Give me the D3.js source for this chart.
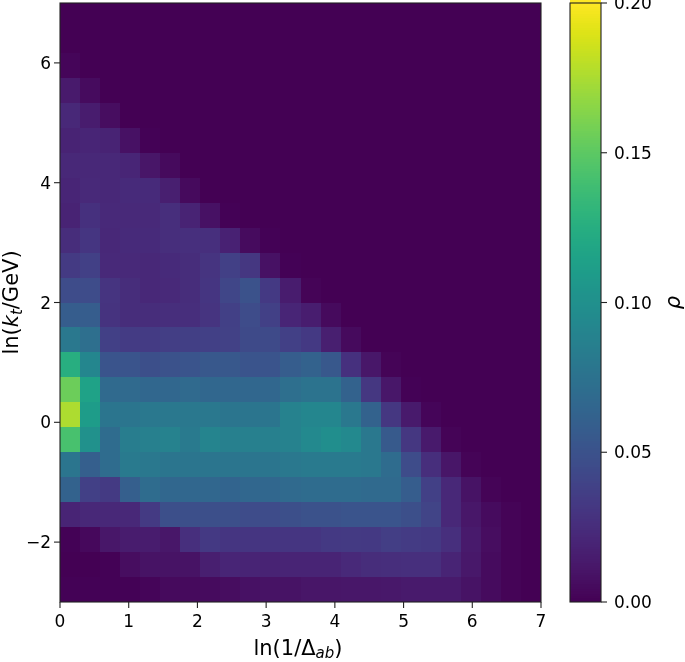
<!DOCTYPE html>
<html><head><meta charset="utf-8">
<script src="https://cdnjs.cloudflare.com/ajax/libs/d3/7.8.5/d3.min.js"></script>
<style>
html,body{margin:0;padding:0;background:#fff;overflow:hidden}
svg{display:block;filter:blur(0.6px)}
text{font-family:"DejaVu Sans",sans-serif;fill:#000}
</style></head><body>
<svg id="c" width="685" height="662"></svg>
<script>
const xTicks=[0,1,2,3,4,5,6,7];
const yTicks=[-2,0,2,4,6];
const cbTicks=[0,0.05,0.10,0.15,0.20];
const xDomain=[0,7], yDomain=[-3,7], rhoDomain=[0,0.2];
const xLabel="ln(1/Δ", xSub="ab", yLabelA="ln(", yLabelK="k", yLabelT="t", yLabelB="/GeV)", cbLabel="ρ";
// rows from the bottom (ln kt = -3) upward, columns from ln(1/Δ) = 0 rightward
const rho=[
[.001,.001,.001,.001,.003,.005,.005,.006,.007,.009,.010,.010,.011,.011,.012,.012,.013,.014,.014,.014,.010,.006,.002,0],
[.0005,.0002,.001,.007,.010,.010,.010,.017,.021,.020,.019,.020,.020,.020,.023,.025,.026,.027,.027,.020,.013,.006,.002,0],
[.001,.004,.012,.015,.015,.012,.027,.033,.031,.031,.031,.031,.031,.033,.034,.033,.036,.035,.033,.027,.014,.007,.002,0],
[.020,.022,.022,.022,.034,.048,.048,.048,.048,.046,.046,.048,.050,.050,.052,.052,.052,.048,.040,.022,.012,.006,.002,0],
[.062,.038,.034,.060,.070,.066,.066,.066,.064,.066,.066,.068,.070,.070,.070,.068,.068,.058,.038,.022,.010,.002,0,0],
[.078,.060,.070,.082,.080,.078,.078,.078,.078,.078,.078,.080,.082,.082,.082,.080,.070,.046,.026,.011,.002,0,0,0],
[.142,.100,.070,.084,.086,.088,.082,.090,.086,.086,.086,.088,.094,.098,.094,.080,.056,.032,.014,.002,0,0,0,0],
[.175,.110,.078,.078,.080,.080,.080,.080,.078,.078,.078,.088,.092,.092,.080,.062,.032,.014,.003,0,0,0,0,0],
[.155,.115,.068,.068,.066,.066,.068,.066,.066,.066,.066,.072,.076,.076,.062,.032,.012,.001,0,0,0,0,0,0],
[.125,.092,.052,.052,.048,.050,.052,.054,.054,.052,.052,.058,.062,.054,.028,.012,.002,0,0,0,0,0,0,0],
[.080,.072,.038,.035,.035,.036,.037,.038,.039,.045,.045,.038,.033,.017,.005,0,0,0,0,0,0,0,0,0],
[.058,.058,.029,.025,.025,.026,.026,.030,.038,.046,.038,.021,.016,.005,0,0,0,0,0,0,0,0,0,0],
[.046,.046,.030,.025,.022,.023,.025,.031,.042,.050,.033,.015,.002,0,0,0,0,0,0,0,0,0,0,0],
[.034,.038,.023,.023,.022,.024,.025,.030,.038,.032,.009,.001,0,0,0,0,0,0,0,0,0,0,0,0],
[.025,.031,.022,.024,.024,.026,.027,.027,.018,.006,.001,0,0,0,0,0,0,0,0,0,0,0,0,0],
[.019,.028,.023,.023,.023,.026,.019,.009,.001,0,0,0,0,0,0,0,0,0,0,0,0,0,0,0],
[.021,.023,.022,.024,.024,.017,.005,0,0,0,0,0,0,0,0,0,0,0,0,0,0,0,0,0],
[.022,.022,.022,.021,.011,.005,0,0,0,0,0,0,0,0,0,0,0,0,0,0,0,0,0,0],
[.019,.021,.019,.009,.001,0,0,0,0,0,0,0,0,0,0,0,0,0,0,0,0,0,0,0],
[.022,.015,.007,0,0,0,0,0,0,0,0,0,0,0,0,0,0,0,0,0,0,0,0,0],
[.014,.006,0,0,0,0,0,0,0,0,0,0,0,0,0,0,0,0,0,0,0,0,0,0],
[.003,.0005,0,0,0,0,0,0,0,0,0,0,0,0,0,0,0,0,0,0,0,0,0,0],
new Array(24).fill(0),
new Array(24).fill(0)
];

const L=60,R=541,T=3,B=602, cbL=570, cbR=601;
const svg=d3.select("#c");
const x=d3.scaleLinear().domain(xDomain).range([L,R]);
const y=d3.scaleLinear().domain(yDomain).range([B,T]);
const col=d3.scaleBand().domain(d3.range(24)).range([L,R]);
const row=d3.scaleBand().domain(d3.range(24)).range([T,B]);
const color=d3.scaleSequential(d3.interpolateViridis).domain(rhoDomain);
const cb=d3.scaleLinear().domain(rhoDomain).range([B,T]);
const snap=v=>Math.round(+v.toFixed(3));

// heatmap (rows counted from the bottom)
const cells=rho.flatMap((r,j)=>r.map((v,i)=>({i,j:23-j,v})));
svg.append("g").attr("shape-rendering","crispEdges").selectAll("rect").data(cells).join("rect")
  .attr("x",d=>snap(col(d.i)))
  .attr("y",d=>snap(row(d.j)))
  .attr("width",d=>snap(col(d.i)+col.bandwidth())-snap(col(d.i)))
  .attr("height",d=>snap(row(d.j)+row.bandwidth())-snap(row(d.j)))
  .attr("fill",d=>color(d.v));

// colorbar
const cbVals=d3.range(0,256).map(k=>k/255*rhoDomain[1]);
svg.append("g").attr("shape-rendering","crispEdges").selectAll("rect").data(cbVals).join("rect")
  .attr("x",cbL).attr("width",cbR-cbL)
  .attr("y",d=>Math.floor(cb(d)-(B-T)/256)).attr("height",4)
  .attr("fill",d=>color(d));
// keep the colorbar inside its frame
svg.append("rect").attr("x",cbL-1).attr("y",B).attr("width",cbR-cbL+2).attr("height",6).attr("fill","#fff");

const ink="#222";
function frame(x0,x1){
  svg.append("rect").attr("x",x0).attr("y",T).attr("width",x1-x0).attr("height",B-T)
    .attr("fill","none").attr("stroke",ink).attr("stroke-width",1.1);
}
frame(L,R); frame(cbL,cbR);

const fs=17;
const gx=svg.append("g");
xTicks.forEach(t=>{
  gx.append("line").attr("x1",x(t)).attr("x2",x(t)).attr("y1",B).attr("y2",B+6).attr("stroke",ink).attr("stroke-width",1.1);
  gx.append("text").attr("x",x(t)).attr("y",B+25).attr("text-anchor","middle").attr("font-size",fs).text(t);
});
const gy=svg.append("g");
yTicks.forEach(t=>{
  gy.append("line").attr("x1",L-6).attr("x2",L).attr("y1",y(t)).attr("y2",y(t)).attr("stroke",ink).attr("stroke-width",1.1);
  gy.append("text").attr("x",L-9).attr("y",y(t)+6).attr("text-anchor","end").attr("font-size",fs).text(t<0?"\u2212"+(-t):t);
});
const gc=svg.append("g");
cbTicks.forEach(t=>{
  gc.append("line").attr("x1",cbR).attr("x2",cbR+6).attr("y1",cb(t)).attr("y2",cb(t)).attr("stroke",ink).attr("stroke-width",1.1);
  gc.append("text").attr("x",cbR+13).attr("y",cb(t)+6).attr("font-size",fs).text(t.toFixed(2));
});

// axis labels
const xl=svg.append("text").attr("x",298).attr("y",655).attr("text-anchor","middle").attr("font-size",21);
xl.append("tspan").text(xLabel);
xl.append("tspan").attr("font-style","italic").attr("font-size",15).attr("dy",3).text(xSub);
xl.append("tspan").attr("dy",-3).text(")");

const yl=svg.append("text").attr("transform",`translate(18,${(T+B)/2}) rotate(-90)`).attr("text-anchor","middle").attr("font-size",21);
yl.append("tspan").text(yLabelA);
yl.append("tspan").attr("font-style","italic").text(yLabelK);
yl.append("tspan").attr("font-style","italic").attr("font-size",15).attr("dy",4).text(yLabelT);
yl.append("tspan").attr("dy",-4).text(yLabelB);

svg.append("text").attr("transform",`translate(680,${(T+B)/2}) rotate(-90)`).attr("text-anchor","middle")
  .attr("font-size",21).attr("font-style","italic").text(cbLabel);
</script>
</body></html>
